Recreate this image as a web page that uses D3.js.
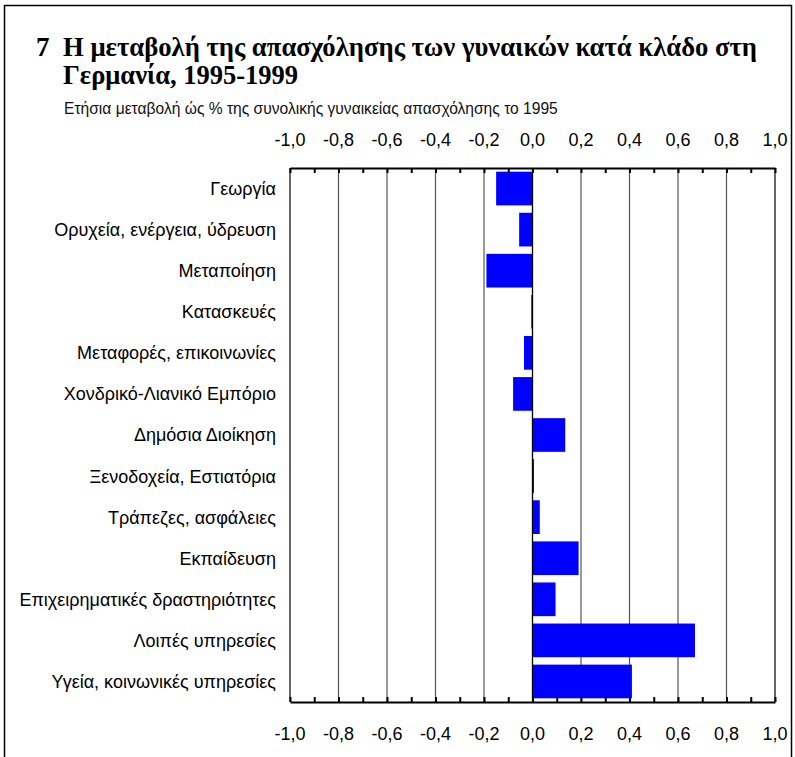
<!DOCTYPE html>
<html>
<head>
<meta charset="utf-8">
<script src="https://cdn.jsdelivr.net/npm/d3@7"></script>
<style>
  body { margin: 0; background: #fff; }
  text { font-family: "Liberation Sans", Arial, sans-serif; }
</style>
</head>
<body>
<div id="chart"></div>
<script>
// data
let categories = [
    "Γεωργία",
    "Ορυχεία, ενέργεια, ύδρευση",
    "Μεταποίηση",
    "Κατασκευές",
    "Μεταφορές, επικοινωνίες",
    "Χονδρικό-Λιανικό Εμπόριο",
    "Δημόσια Διοίκηση",
    "Ξενοδοχεία, Εστιατόρια",
    "Τράπεζες, ασφάλειες",
    "Εκπαίδευση",
    "Επιχειρηματικές δραστηριότητες",
    "Λοιπές υπηρεσίες",
    "Υγεία, κοινωνικές υπηρεσίες"
];
let values = [-0.15, -0.055, -0.19, -0.005, -0.035, -0.08, 0.135, 0.005, 0.03, 0.19, 0.095, 0.67, 0.41];
let major_ticks = [-1, -0.8, -0.6, -0.4, -0.2, 0, 0.2, 0.4, 0.6, 0.8, 1];
let minor_ticks = [-0.9, -0.7, -0.5, -0.3, -0.1, 0.1, 0.3, 0.5, 0.7, 0.9];

let title_lines = ["Η μεταβολή της απασχόλησης των γυναικών κατά κλάδο στη", "Γερμανία, 1995-1999"];
let subtitle = "Ετήσια μεταβολή ώς % της συνολικής γυναικείας απασχόλησης το 1995";

let width = 795, height = 757;
let p_left = 290, p_right = 775, p_top = 168, p_bottom = 702;

let svg = d3.select("#chart").append("svg")
    .attr("width", width)
    .attr("height", height);

// frame
svg.append("rect")
    .attr("x", 4.5).attr("y", 5.5)
    .attr("width", 787).attr("height", 800)
    .attr("fill", "none")
    .attr("stroke", "#000")
    .attr("stroke-width", 1.5);

// title
svg.append("text")
    .attr("x", 36).attr("y", 56)
    .style("font-family", "'Liberation Serif', 'Times New Roman', serif")
    .style("font-weight", "bold")
    .style("font-size", "27px")
    .text("7");
svg.selectAll(".title")
    .data(title_lines)
    .enter().append("text")
    .attr("class", "title")
    .attr("x", 63)
    .attr("y", function (d, i) { return 56 + i * 28; })
    .style("font-family", "'Liberation Serif', 'Times New Roman', serif")
    .style("font-weight", "bold")
    .style("font-size", "27px")
    .attr("textLength", function (d, i) { return i === 0 ? 694 : 235; })
    .attr("lengthAdjust", "spacingAndGlyphs")
    .text(function (d) { return d; });

svg.append("text")
    .attr("x", 64).attr("y", 114)
    .style("font-size", "15.6px")
    .attr("fill", "#111")
    .text(subtitle);

// scales
let x = d3.scaleLinear().domain([-1, 1]).range([p_left, p_right]);
let y = d3.scaleBand().domain(categories).range([p_top, p_bottom])
    .paddingInner(0.18).paddingOuter(0.09);

let fmt = function (d) { return d3.format(".1f")(d).replace(".", ",").replace("−", "-"); };

// gridlines
svg.append("g").selectAll("line")
    .data(major_ticks)
    .enter().append("line")
    .attr("x1", function (d) { return x(d); })
    .attr("x2", function (d) { return x(d); })
    .attr("y1", p_top).attr("y2", p_bottom)
    .attr("stroke", function (d) { return (d === -1 || d === 1) ? "#000" : "#555"; })
    .attr("stroke-width", 1.2);

// bars
svg.append("g").selectAll("rect")
    .data(values)
    .enter().append("rect")
    .attr("x", function (d) { return x(Math.min(0, d)); })
    .attr("y", function (d, i) { return y(categories[i]); })
    .attr("width", function (d) { return Math.max(1.5, Math.abs(x(d) - x(0))); })
    .attr("height", y.bandwidth())
    .attr("fill", "#0000ff");

// zero line
svg.append("line")
    .attr("x1", x(0)).attr("x2", x(0))
    .attr("y1", p_top).attr("y2", p_bottom)
    .attr("stroke", "#000").attr("stroke-width", 1.2);

// axes
let all_ticks = major_ticks.concat(minor_ticks).sort(d3.ascending);
let top_axis = d3.axisTop(x).tickValues(all_ticks).tickSizeInner(-5).tickSizeOuter(0).tickFormat("");
let bottom_axis = d3.axisBottom(x).tickValues(all_ticks).tickSizeInner(-5).tickSizeOuter(0).tickFormat("");

let gt = svg.append("g").attr("transform", "translate(0," + p_top + ")").call(top_axis);
let gb = svg.append("g").attr("transform", "translate(0," + p_bottom + ")").call(bottom_axis);
[gt, gb].forEach(function (g) {
    g.select(".domain").attr("stroke", "#000").attr("stroke-width", 2);
    g.selectAll(".tick line").attr("stroke", "#000").attr("stroke-width", 2);
});

// tick labels
[146, 740].forEach(function (ty) {
    svg.append("g").selectAll("text")
        .data(major_ticks)
        .enter().append("text")
        .attr("x", function (d) { return x(d); })
        .attr("y", ty)
        .attr("text-anchor", "middle")
        .style("font-size", "18px")
        .text(fmt);
});

// category labels
svg.append("g").selectAll("text")
    .data(categories)
    .enter().append("text")
    .attr("x", 276)
    .attr("y", function (d) { return y(d) + y.bandwidth() / 2; })
    .attr("dy", "0.36em")
    .attr("text-anchor", "end")
    .style("font-size", "18px")
    .text(function (d) { return d; });
</script>
</body>
</html>
